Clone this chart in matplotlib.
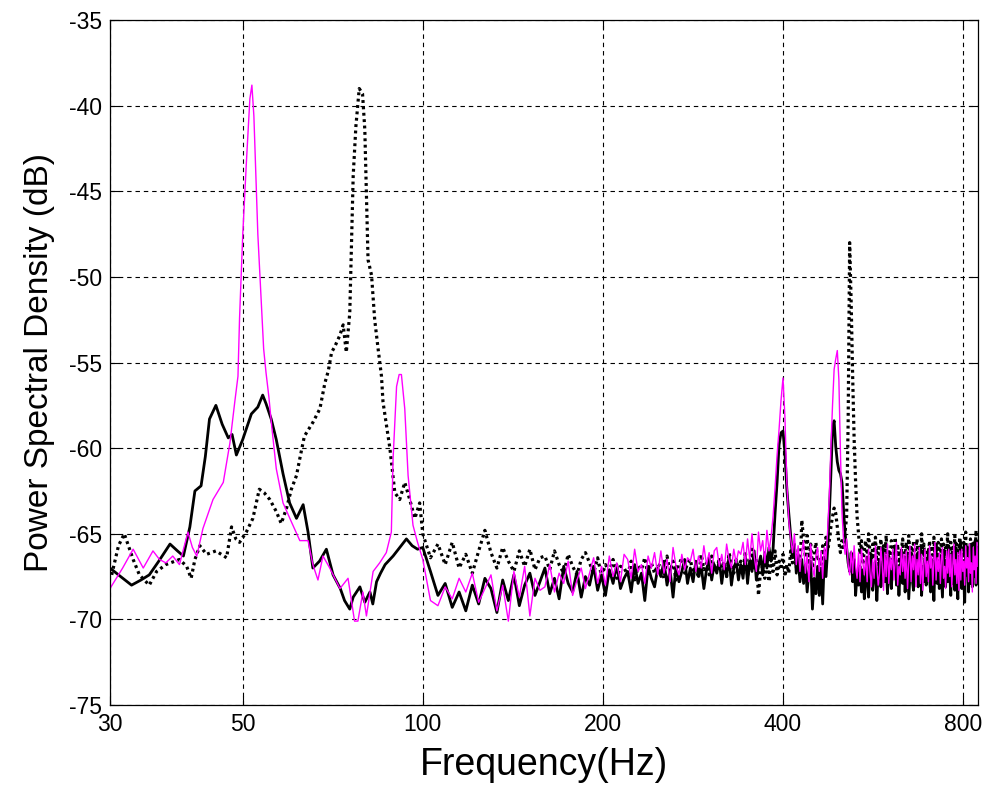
import numpy as np
import matplotlib
matplotlib.use("Agg")
import matplotlib.pyplot as plt

# ---- data ----
# low band (30-100 Hz), traced points
solid_f_low = [30.0, 31.0, 32.6, 33.8, 34.9, 36.2, 37.8, 38.9, 39.8, 40.8, 41.6, 42.6,
               43.3, 44.0, 45.1, 46.2, 47.3, 48.0, 48.8, 50.0, 51.7, 53.0, 54.0, 54.7,
               55.8, 56.9, 58.4, 59.9, 61.5, 63.1, 64.3, 65.5, 67.2, 69.0, 70.8, 72.8,
               74.0, 75.5, 76.5, 78.5, 80.0, 81.6, 82.5, 83.7, 85.0, 86.5, 89.2, 91.5,
               93.9, 96.0, 98.0]
solid_db_low = [-67.0, -67.4, -68.0, -67.7, -67.4, -66.6, -65.6, -66.0, -66.3, -64.6, -62.5, -62.2,
                -60.5, -58.3, -57.5, -58.6, -59.4, -59.2, -60.4, -59.5, -58.0, -57.6, -56.9, -57.4,
                -58.3, -59.5, -61.5, -63.2, -64.1, -63.3, -64.9, -67.0, -66.6, -65.9, -67.4, -68.2,
                -68.9, -69.4, -68.7, -68.1, -69.0, -68.4, -69.1, -67.8, -67.3, -66.8, -66.3, -65.8,
                -65.3, -65.7, -65.9]

magenta_f_low = [30.0, 31.5, 32.8, 34.1, 35.4, 36.3, 37.2, 38.2, 39.2, 40.5, 41.2, 41.9,
                 42.9, 44.6, 46.4, 47.6, 48.5, 49.1, 49.4, 50.0, 50.7, 51.4, 51.8, 52.2,
                 52.6, 53.0, 53.6, 54.2, 54.7, 55.3, 55.9, 56.9, 58.4, 60.3, 62.3, 64.3,
                 65.5, 66.8, 68.1, 69.9, 72.7, 75.0, 76.9, 77.9, 79.4, 80.5, 82.6, 84.7,
                 86.9, 88.6, 89.2, 90.4, 91.3, 92.1, 93.3, 94.5, 96.3, 98.0]
magenta_db_low = [-68.2, -67.0, -65.9, -67.0, -66.0, -66.5, -66.7, -66.3, -66.8, -64.9, -65.8, -66.3,
                  -64.7, -63.0, -62.0, -59.7, -57.3, -55.8, -52.4, -47.6, -43.4, -39.6, -38.8, -40.6,
                  -44.1, -47.5, -50.9, -54.2, -55.6, -57.0, -58.7, -61.2, -63.2, -64.3, -65.4, -65.4,
                  -66.8, -67.7, -66.3, -67.0, -68.2, -67.6, -70.1, -70.1, -68.4, -69.8, -67.2, -66.7,
                  -66.1, -64.9, -60.6, -56.4, -55.7, -55.7, -57.7, -61.6, -64.5, -65.5]

dotted_f_low = [30.2, 31.0, 31.7, 32.8, 33.6, 34.9, 35.9, 37.2, 39.2, 40.3, 41.0, 41.6,
                42.4, 43.5, 45.1, 47.0, 47.9, 48.7, 49.4, 50.7, 52.0, 53.3, 54.3, 55.5,
                56.9, 58.0, 59.2, 60.3, 61.5, 62.3, 63.4, 65.5, 67.3, 68.6, 69.5, 70.4,
                71.2, 72.7, 73.6, 74.5, 75.5, 76.0, 76.5, 77.3, 78.3, 79.3, 80.0, 80.5,
                81.0, 82.1, 83.1, 84.2, 85.3, 85.8, 88.1, 89.8, 91.5, 93.3, 95.1, 97.0,
                98.8]
dotted_db_low = [-67.4, -65.7, -65.0, -66.5, -67.4, -68.0, -67.2, -66.8, -66.5, -66.9, -67.6, -66.5,
                 -65.7, -66.2, -66.0, -66.4, -64.6, -65.3, -65.5, -64.9, -64.1, -62.4, -62.6, -63.0,
                 -63.7, -64.4, -63.5, -62.4, -61.6, -60.6, -59.3, -58.5, -57.7, -56.2, -55.5, -54.4,
                 -54.1, -53.4, -52.8, -54.4, -52.1, -48.0, -44.1, -41.2, -39.0, -39.3, -41.4, -45.1,
                 -49.0, -49.9, -52.5, -54.2, -55.8, -57.3, -60.0, -62.6, -63.0, -62.0, -63.0, -64.1,
                 -63.2]

# upper band (100-847 Hz), 3 Hz bins
f_grid = np.arange(100, 850, 3)

solid_db_grid = [
    -65.8, -67.2, -68.6, -67.9, -69.3, -68.4, -69.5, -68.0, -69.1, -67.6,
    -68.2, -69.6, -67.7, -68.9, -67.4, -69.2, -68.0, -67.3, -68.6, -67.8,
    -67.0, -68.5, -67.6, -68.8, -66.9, -67.9, -68.4, -67.2, -68.7, -67.5,
    -68.0, -66.9, -68.3, -67.4, -68.6, -67.1, -67.9, -66.8, -68.2, -67.6,
    -67.2, -68.4, -66.8, -67.9, -67.3, -68.9, -66.9, -67.6, -68.1, -67.0,
    -67.5, -66.6, -68.0, -67.1, -68.7, -66.9, -67.8, -67.2, -66.5, -67.9,
    -67.0, -67.8, -66.6, -67.5, -66.9, -68.2, -67.1, -66.4, -67.7, -66.8,
    -67.3, -66.5, -67.9, -66.8, -67.5, -66.3, -68.0, -67.0, -66.6, -67.7,
    -66.8, -67.6, -66.2, -67.9, -66.5, -67.2, -66.0, -67.7, -66.9, -66.3,
    -67.4, -66.1, -67.0, -65.8, -66.6, -65.9, -63.8, -62.0, -59.8, -59.1,
    -59.0, -60.3, -62.4, -63.8, -65.1, -66.4, -65.6, -67.3, -66.2, -67.8,
    -66.5, -67.9, -66.8, -68.4, -67.2, -66.6, -69.4, -67.6, -68.5, -66.9,
    -68.6, -67.0, -69.1, -66.4, -67.5, -65.9, -63.9, -61.5, -58.8, -58.4,
    -59.9, -60.8, -61.3, -61.5, -62.0, -63.6, -65.0, -65.8, -66.7, -67.2,
    -66.1, -67.8, -66.5, -68.6, -67.3, -68.0, -66.9, -68.4, -67.1, -68.8,
    -67.9, -66.4, -68.7, -67.0, -66.2, -68.3, -67.5, -66.6, -68.9, -67.2,
    -66.5, -68.1, -67.4, -65.9, -67.8, -66.7, -68.5, -66.3, -67.6, -68.2,
    -66.8, -67.3, -65.7, -68.0, -66.9, -68.6, -67.1, -66.0, -67.9, -66.5,
    -68.4, -67.0, -66.3, -68.8, -67.4, -66.1, -67.7, -68.3, -66.6, -67.5,
    -66.2, -68.1, -67.3, -65.8, -68.6, -66.9, -67.8, -66.4, -68.0, -67.1,
    -65.9, -67.6, -68.4, -66.5, -67.2, -68.9, -66.7, -65.6, -67.9, -66.8,
    -68.2, -66.4, -67.5, -68.7, -66.0, -67.3, -68.1, -66.6, -67.8, -65.7,
    -67.4, -68.6, -66.3, -67.9, -66.9, -68.3, -65.8, -67.6, -68.8, -66.5,
    -67.0, -65.5, -68.2, -66.7, -67.7, -69.0, -66.2, -67.4, -65.9, -68.4,
    -66.6, -67.9, -65.6, -68.1, -66.9, -67.5, -65.4, -68.0, -66.3, -67.2,
]

magenta_db_grid = [
    -66.5, -68.9, -69.2, -68.1, -68.8, -67.6, -68.4, -67.3, -69.0, -68.2,
    -67.4, -69.5, -68.0, -70.1, -67.2, -68.7, -66.9, -69.8, -67.6, -68.3,
    -68.1, -66.8, -68.4, -67.3, -67.9, -66.6, -68.6, -67.7, -67.0, -68.2,
    -67.3, -66.4, -67.9, -66.9, -68.0, -66.3, -67.5, -66.7, -67.8, -66.2,
    -66.5, -67.6, -65.9, -67.2, -66.8, -67.9, -66.3, -67.0, -66.1, -67.4,
    -66.0, -67.3, -66.5, -67.8, -65.8, -66.9, -67.4, -66.2, -67.1, -66.4,
    -66.6, -65.9, -67.2, -66.3, -67.0, -65.7, -66.8, -66.1, -67.3, -66.0,
    -65.8, -66.9, -66.2, -67.1, -65.6, -66.5, -67.0, -65.9, -66.7, -66.0,
    -66.2, -65.5, -66.8, -65.3, -66.5, -65.0, -66.3, -67.2, -64.9, -66.0,
    -65.4, -66.7, -64.8, -66.0, -65.2, -64.0, -62.3, -60.4, -58.9, -57.2,
    -55.9, -58.2, -62.0, -64.2, -65.3, -66.1, -65.0, -66.8, -65.7, -67.2,
    -66.0, -65.4, -67.3, -66.2, -67.8, -65.6, -66.9, -67.5, -66.3, -65.8,
    -67.2, -66.0, -67.6, -65.8, -66.5, -64.8, -62.8, -60.0, -57.5, -55.4,
    -54.8, -54.3, -56.0, -60.3, -63.8, -65.4, -66.2, -65.3, -66.8, -67.4,
    -66.0, -67.3, -65.7, -66.9, -67.6, -66.1, -67.8, -65.9, -66.7, -67.4,
    -66.3, -67.8, -65.9, -67.2, -68.1, -66.5, -67.6, -65.7, -66.9, -68.0,
    -67.3, -65.8, -66.8, -68.3, -66.1, -67.5, -65.6, -67.9, -66.4, -67.1,
    -65.9, -67.7, -66.6, -65.5, -68.0, -66.9, -67.4, -65.8, -67.2, -66.2,
    -67.6, -66.0, -68.2, -66.7, -65.7, -67.8, -66.3, -67.1, -65.6, -68.1,
    -66.5, -67.4, -65.8, -67.9, -66.2, -68.3, -66.8, -65.9, -67.5, -66.6,
    -67.8, -65.7, -67.0, -66.3, -68.0, -66.6, -65.5, -67.7, -66.4, -67.2,
    -66.1, -67.9, -66.5, -65.8, -67.6, -66.9, -68.2, -66.0, -67.3, -65.9,
    -67.5, -66.2, -68.1, -66.8, -65.6, -67.4, -66.5, -67.9, -66.1, -68.3,
    -66.0, -67.7, -65.9, -67.2, -66.6, -68.0, -65.7, -67.0, -66.4, -67.8,
    -65.6, -67.3, -66.7, -68.4, -65.8, -67.1, -66.3, -67.9, -65.5, -66.9,
]

dotted_db_grid = [
    -65.0, -66.4, -65.6, -66.8, -65.5, -67.0, -66.2, -67.3, -66.0, -64.8,
    -66.1, -67.0, -65.8, -66.6, -67.2, -66.0, -66.9, -65.9, -67.1, -66.4,
    -66.3, -67.1, -66.0, -66.8, -67.3, -66.2, -66.9, -67.4, -66.5, -66.1,
    -66.7, -67.3, -66.4, -67.5, -66.8, -67.2, -66.5, -67.6, -66.9, -67.0,
    -67.4, -66.6, -67.8, -66.9, -67.1, -66.4, -67.5, -66.7, -67.3, -66.8,
    -66.9, -67.6, -66.3, -67.2, -66.6, -67.7, -66.8, -66.4, -67.3, -66.7,
    -66.5, -67.3, -66.9, -67.6, -66.2, -67.1, -66.7, -67.4, -66.3, -67.0,
    -67.2, -66.4, -67.0, -66.6, -67.5, -66.1, -66.8, -67.3, -66.5, -66.9,
    -66.6, -67.3, -66.0, -67.5, -66.8, -65.9, -67.0, -66.4, -68.6, -67.1,
    -66.9, -67.6, -66.3, -67.8, -66.5, -67.2, -66.0, -67.4, -66.6, -67.1,
    -66.2, -67.5, -66.8, -67.3, -66.0, -66.7, -65.8, -67.0, -66.4, -67.4,
    -64.2, -65.3, -66.4, -65.1, -66.8, -65.6, -67.0, -66.2, -65.5, -66.6,
    -66.4, -67.1, -65.7, -66.8, -65.2, -66.0, -65.4, -64.6, -64.0, -63.5,
    -63.8, -64.6, -65.5, -66.1, -65.4, -65.8, -64.9, -64.0, -58.5, -48.0,
    -51.5, -55.8, -59.5, -62.0, -64.0, -65.0, -66.2, -65.4, -66.8, -65.9,
    -65.4, -66.6, -65.0, -66.1, -67.0, -65.6, -66.3, -65.2, -66.8, -65.8,
    -66.2, -65.3, -66.9, -65.7, -66.4, -65.1, -67.2, -65.9, -66.5, -65.4,
    -65.8, -66.7, -65.2, -66.3, -65.6, -67.1, -65.9, -66.0, -65.3, -66.6,
    -66.4, -65.5, -66.9, -65.1, -66.2, -65.8, -67.0, -65.4, -66.7, -65.9,
    -65.3, -66.5, -65.8, -66.9, -65.0, -66.3, -65.6, -67.1, -65.9, -66.2,
    -66.6, -65.4, -66.1, -65.7, -66.8, -65.2, -66.5, -65.9, -67.0, -65.5,
    -65.9, -66.7, -65.3, -66.4, -65.6, -67.2, -65.8, -66.1, -65.0, -66.6,
    -66.3, -65.5, -66.9, -65.8, -66.2, -65.1, -66.7, -65.6, -66.4, -65.9,
    -65.2, -66.6, -65.7, -67.0, -65.5, -66.3, -64.9, -66.8, -65.8, -66.1,
    -66.5, -65.3, -66.0, -65.6, -66.9, -65.4, -66.2, -64.8, -66.6, -65.7,
]

x_ticks = [30, 50, 100, 200, 400, 800]
y_ticks = [-75, -70, -65, -60, -55, -50, -45, -40, -35]

plt.rcParams['font.family'] = ['Liberation Sans', 'DejaVu Sans']
plt.rcParams['axes.unicode_minus'] = False

solid_f = np.concatenate([solid_f_low, f_grid])
solid_db = np.concatenate([solid_db_low, solid_db_grid])
magenta_f = np.concatenate([magenta_f_low, f_grid])
magenta_db = np.concatenate([magenta_db_low, magenta_db_grid])
dotted_f = np.concatenate([dotted_f_low, f_grid])
dotted_db = np.concatenate([dotted_db_low, dotted_db_grid])

fig = plt.figure(figsize=(9.88, 7.96), dpi=100)
ax = fig.add_axes([0.1113, 0.1143, 0.8785, 0.8605])

ax.plot(dotted_f, dotted_db, color='k', lw=2.3, linestyle=(0, (0.9, 1.1)))
ax.plot(solid_f, solid_db, color='k', lw=2.0)
ax.plot(magenta_f, magenta_db, color='#ff00ff', lw=1.0)

ax.set_xscale('log')
ax.set_xlim(30, 847)
ax.set_ylim(-75, -35)
ax.set_xticks(x_ticks)
ax.set_xticklabels([str(t) for t in x_ticks])
ax.xaxis.set_minor_locator(matplotlib.ticker.NullLocator())
ax.set_yticks(y_ticks)
ax.set_yticklabels([str(t) for t in y_ticks])

ax.grid(True, color='k', linestyle=(0, (4, 3.5)), linewidth=0.8)
ax.set_axisbelow(True)
ax.tick_params(direction='in', top=True, right=True, length=6.5, width=0.8,
               labelsize=16.5, pad=6)
for s in ax.spines.values():
    s.set_linewidth(0.9)

ax.set_xlabel('Frequency(Hz)', fontsize=27, labelpad=8)
ax.set_ylabel('Power Spectral Density (dB)', fontsize=24, labelpad=10)

fig.savefig('out.png', dpi=100)
plt.close(fig)
